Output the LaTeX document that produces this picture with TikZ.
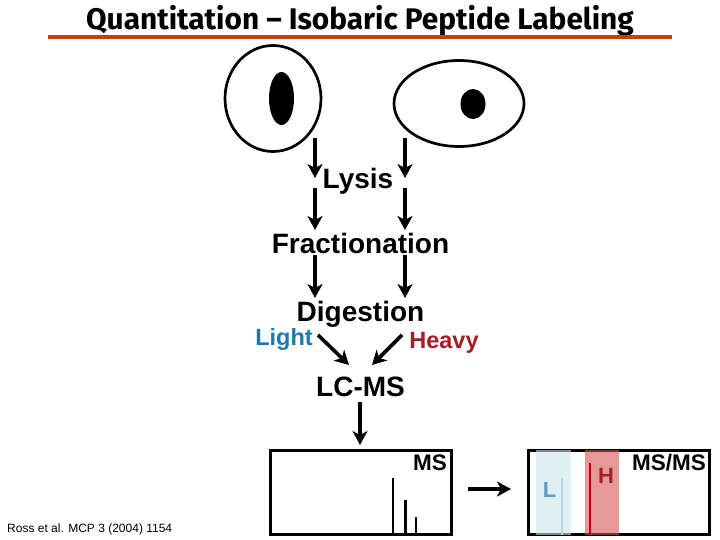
\documentclass[tikz,border=0pt]{standalone}
\usepackage{fontspec}
\setmainfont{Liberation Sans}
\newfontfamily\titlefont{Fira Sans}
\usetikzlibrary{arrows.meta,shapes.geometric}
\definecolor{rulecol}{HTML}{C0401A}
\definecolor{lightblue}{HTML}{1F78B0}
\definecolor{heavyred}{HTML}{A81C24}
\definecolor{lband}{rgb}{0.80,0.90,0.917}
\definecolor{hband}{rgb}{0.83,0.333,0.333}
\definecolor{lline}{HTML}{B5D8DC}
\definecolor{hline}{HTML}{C00010}
\definecolor{ltext}{HTML}{5B9BC4}
\tikzset{
  x=1pt,y=-1pt,
  flow/.style={line width=3.6pt,-{Stealth[length=14pt,width=15pt,inset=4pt]}},
  stage/.style={font=\fontsize{28}{28}\selectfont\bfseries,inner sep=0pt,anchor=base},
  tag/.style={font=\fontsize{23.5}{23.5}\selectfont\bfseries,inner sep=0pt,anchor=base},
  panel/.style={font=\fontsize{22.5}{22.5}\selectfont\bfseries,inner sep=0pt,anchor=base east},
  cell/.style={ellipse,draw=black,line width=2.7pt,fill=white,inner sep=0pt,outer sep=0pt},
  nucleus/.style={ellipse,fill=black,inner sep=0pt,outer sep=0pt},
  frame/.style={draw=black,line width=3pt},
  peak/.style={line width=2.7pt},
  band/.style={fill opacity=.6,draw=none}
}
\begin{document}
\begin{tikzpicture}
\useasboundingbox[fill=white] (0,0) rectangle (720,540);
% title
\node[inner sep=0pt,anchor=base] (title) at (360,30) {\titlefont\fontsize{29.8}{29.8}\selectfont\bfseries Quantitation – Isobaric Peptide Labeling};
\coordinate (ruleL) at (48,37.5);
\coordinate (ruleR) at (672,37.5);
\draw[rulecol,line width=4pt] (ruleL) -- (ruleR);
% cells
\node[cell,minimum width=96pt,minimum height=106pt] (cellA) at (273,98.5) {};
\node[nucleus,minimum width=25pt,minimum height=53pt] (nucA) at (281.5,98.5) {};
\node[cell,minimum width=130pt,minimum height=86pt] (cellB) at (459,103.5) {};
\node[nucleus,minimum width=25pt,minimum height=30pt] (nucB) at (473,104) {};
% stage labels
\node[stage] (lysis) at (358,189) {Lysis};
\node[stage] (frac) at (360.5,253.5) {Fractionation};
\node[stage] (dig) at (360.5,321.5) {Digestion};
\node[stage] (lcms) at (360.5,396.5) {LC-MS};
\node[tag,text=lightblue] (light) at (284,345) {Light};
\node[tag,text=heavyred] (heavy) at (444,348) {Heavy};
\node[font=\fontsize{12}{12}\selectfont,inner sep=0pt,anchor=base west] (ref) at (7,532) {Ross et al. MCP 3 (2004) 1154};
% flow arrows
\foreach \n/\x/\a/\b in {a/315/138/178,b/405/138/178,c/315/188/230,d/405/188/230,e/315/255/298,f/405/255/298}{
  \coordinate (s\n) at (\x,\a);
  \coordinate (t\n) at (\x,\b);
  \draw[flow] (s\n) -- (t\n);
}
\coordinate (sg) at (318,335); \coordinate (tg) at (349,365);
\coordinate (sh) at (402,335); \coordinate (th) at (372,365);
\coordinate (si) at (360,402); \coordinate (ti) at (360,445);
\coordinate (sj) at (468,489); \coordinate (tj) at (511,489);
\draw[flow] (sg) -- (tg);
\draw[flow] (sh) -- (th);
\draw[flow] (si) -- (ti);
\draw[flow] (sj) -- (tj);
% MS panel
\node[frame,rectangle,minimum width=181pt,minimum height=84pt,inner sep=0pt] (ms) at (360.5,492) {};
\node[panel] (mslab) at (447,470) {MS};
\coordinate (p1b) at (393,534); \coordinate (p1t) at (393,478);
\coordinate (p2b) at (405.5,534); \coordinate (p2t) at (405.5,500);
\coordinate (p3b) at (416,534); \coordinate (p3t) at (416,517);
\draw[peak] (p1b) -- (p1t);
\draw[peak] (p2b) -- (p2t);
\draw[peak] (p3b) -- (p3t);
% MS/MS panel
\node[frame,rectangle,minimum width=181pt,minimum height=84pt,inner sep=0pt] (msms) at (618.5,492) {};
\fill[lband,band] (536,450) rectangle (571,535);
\fill[hband,band] (585,450) rectangle (619,535);
\coordinate (q1b) at (562,535); \coordinate (q1t) at (562,478);
\coordinate (q2b) at (590,534); \coordinate (q2t) at (590,463);
\draw[lline,line width=2.6pt] (q1b) -- (q1t);
\draw[hline,line width=2.6pt] (q2b) -- (q2t);
\node[font=\fontsize{22}{22}\selectfont\bfseries,text=ltext,inner sep=0pt,anchor=base] (ltxt) at (549.5,497) {L};
\node[font=\fontsize{22}{22}\selectfont\bfseries,text=heavyred,inner sep=0pt,anchor=base] (htxt) at (606,483) {H};
\node[panel] (mmlab) at (706,470) {MS/MS};
\end{tikzpicture}
\end{document}
